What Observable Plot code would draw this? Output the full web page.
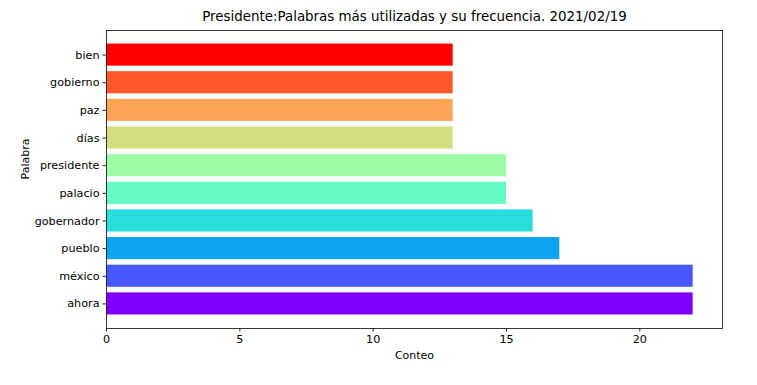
<!DOCTYPE html>
<html><head><meta charset="utf-8">
<script src="https://cdn.jsdelivr.net/npm/d3@7"></script>
<script src="https://cdn.jsdelivr.net/npm/@observablehq/plot@0.6"></script>
<style>body{margin:0;background:#fff}</style>
</head><body><div id="chart"></div>
<script>
const palabras = ["ahora","méxico","pueblo","gobernador","palacio","presidente","días","paz","gobierno","bien"];
const conteos = [22,22,17,16,15,15,13,13,13,13];
const colores = ["#8000ff","#4757fb","#0ea4f0","#2adddd","#63fbc3","#9cfba4","#d4dd80","#ffa457","#ff572c","#ff0000"];
const xTicks = [0,5,10,15,20];
const titulo = "Presidente:Palabras más utilizadas y su frecuencia. 2021/02/19";
const etiquetaX = "Conteo";
const etiquetaY = "Palabra";

const data = palabras.map((p,i)=>({palabra:p, conteo:conteos[i], color:colores[i]}));

const chart = Plot.plot({
  width: 757,
  height: 385,
  marginLeft: 106,
  marginRight: 35,
  marginTop: 30,
  marginBottom: 57,
  style: {fontFamily: "'DejaVu Sans', sans-serif", fontSize: "11px", color: "black", background: "white"},
  x: {domain: [0, 23.1], ticks: xTicks, label: null},
  y: {domain: palabras.slice().reverse(), paddingInner: 0.2, paddingOuter: 0.49, round: false, label: null},
  marks: [
    Plot.barX(data, {x: "conteo", y: "palabra", fill: "color"}),
    Plot.frame({stroke: "#222", strokeWidth: 0.9}),
    Plot.axisX({ticks: xTicks, tickSize: 3.5, tickPadding: 3, fontSize: 11.2, label: null, stroke: "#222"}),
    Plot.axisY({tickSize: 3.5, tickPadding: 3.5, fontSize: 11.2, label: null, stroke: "#222"}),
    Plot.text([etiquetaX], {text: d => d, frameAnchor: "bottom", dy: 27, lineAnchor: "middle", fontSize: 11, fill: "black"}),
    Plot.text([etiquetaY], {text: d => d, frameAnchor: "left", dx: -81, rotate: -90, lineAnchor: "middle", fontSize: 11, fill: "black"}),
    Plot.text([titulo], {text: d => d, frameAnchor: "top", dy: -14, lineAnchor: "middle", fontSize: 13.4, fill: "black"})
  ]
});
document.getElementById("chart").appendChild(chart);
</script>
</body></html>
